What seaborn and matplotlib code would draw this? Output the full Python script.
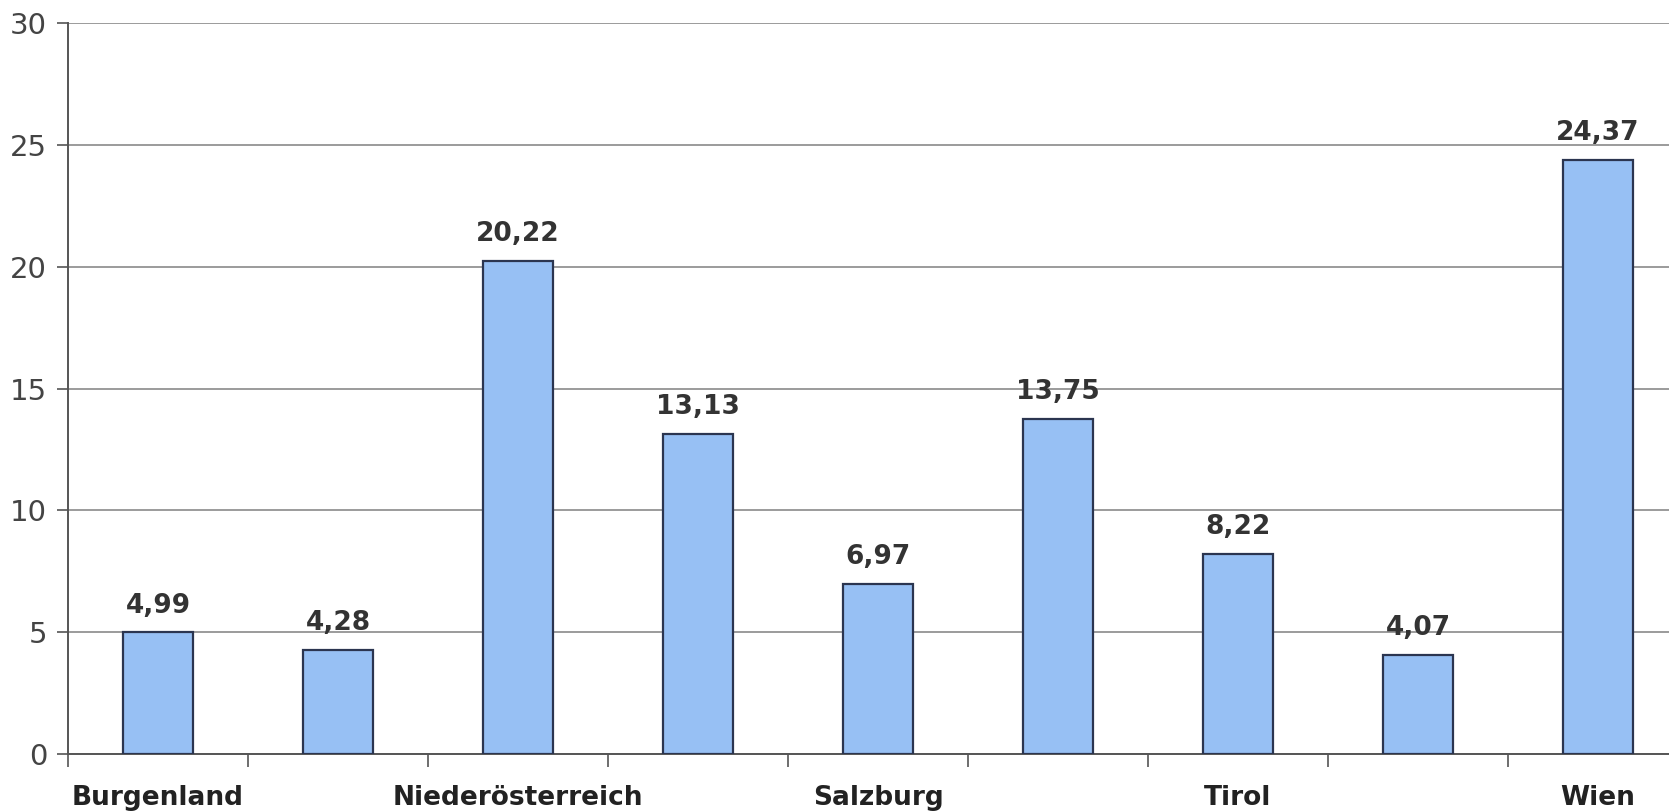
import matplotlib
matplotlib.use("Agg")
import matplotlib.pyplot as plt
import seaborn as sns
import numpy as np
import pandas as pd

# Bundesländer and their values
states = ["Burgenland", "Kärnten", "Niederösterreich", "Oberösterreich", "Salzburg",
          "Steiermark", "Tirol", "Vorarlberg", "Wien"]
values = [4.99, 4.28, 20.22, 13.13, 6.97, 13.75, 8.22, 4.07, 24.37]
# only every second category name is printed on the axis
shown_labels = ["Burgenland", "", "Niederösterreich", "", "Salzburg", "", "Tirol", "", "Wien"]
y_ticks = [0, 5, 10, 15, 20, 25, 30]

sns.set_style("white")
plt.rcParams["font.family"] = ["DejaVu Sans"]

df = pd.DataFrame({"state": states, "value": values})

fig = plt.figure(figsize=(16.69, 8.11), dpi=100)
ax = fig.add_axes([68 / 1669, 57 / 811, 1620 / 1669, 731 / 811])

sns.barplot(data=df, x="state", y="value", color="#97c0f4", width=0.39,
            edgecolor="#2b3550", linewidth=1.6, saturation=1, ax=ax, zorder=3)

ax.set_xlim(-0.5, len(states) - 0.5)
ax.set_ylim(0, 30)
ax.set_yticks(y_ticks)
ax.set_yticklabels([str(t) for t in y_ticks], fontsize=21, color="#444444")
ax.yaxis.grid(True, color="#8a8a8a", linewidth=1.2, zorder=0)
ax.set_axisbelow(True)

# category names centred under bars, tick marks between categories
ax.set_xticks(range(len(states)))
ax.set_xticklabels(shown_labels, fontsize=19, fontweight="bold", color="#222222")
ax.set_xticks(np.arange(-0.5, len(states), 1.0), minor=True)
ax.tick_params(axis="x", which="both", bottom=True)
ax.tick_params(axis="y", which="both", left=True)
ax.tick_params(axis="x", which="major", length=0, pad=22)
ax.tick_params(axis="x", which="minor", length=9, width=1.2, color="#555555", direction="out")
ax.tick_params(axis="y", length=8, width=1.2, color="#555555", direction="out", pad=7)
ax.set_xlabel("")
ax.set_ylabel("")

for side in ["top", "right"]:
    ax.spines[side].set_visible(False)
for side in ["left", "bottom"]:
    ax.spines[side].set_color("#555555")
    ax.spines[side].set_linewidth(1.4)

# value labels with decimal comma
for i, v in enumerate(values):
    ax.annotate(f"{v:.2f}".replace(".", ","), xy=(i, v), xytext=(0, 10),
                textcoords="offset points", ha="center", va="bottom",
                fontsize=19, fontweight="bold", color="#333333")

fig.savefig("out.png", dpi=100)
